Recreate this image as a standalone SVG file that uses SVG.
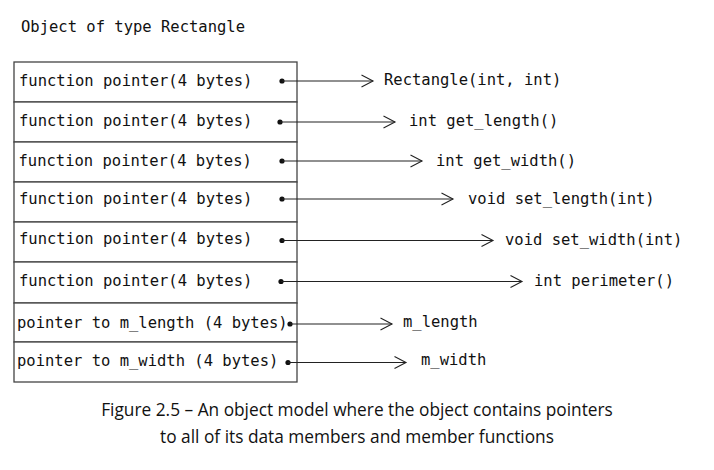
<svg xmlns="http://www.w3.org/2000/svg" width="714" height="470" viewBox="0 0 714 470">
<style>
.mono{font-family:"DejaVu Sans Mono","Liberation Mono",monospace;font-size:15.5px;fill:#111}
.cap{font-family:"Open Sans","Noto Sans",sans-serif;font-size:17.3px;fill:#111}
.row{fill:#fff;stroke:#444;stroke-width:1.3}
.conn{stroke:#222;stroke-width:1.1;fill:none}
.dot{fill:#111}
</style>
<defs>
<marker id="arr" markerUnits="userSpaceOnUse" markerWidth="14" markerHeight="14" refX="12" refY="7" orient="auto">
<path d="M0.5,1 L12,7 L0.5,13" fill="none" stroke="#222" stroke-width="1.1"/>
</marker>
</defs>
<rect width="714" height="470" fill="#fff"/>
<text id="title" class="mono" x="21" y="32">Object of type Rectangle</text>
<g id="object">
<g id="row1"><rect class="row" x="14" y="62" width="283" height="40"/><text class="mono" x="19" y="86">function pointer(4 bytes)</text></g>
<g id="row2"><rect class="row" x="14" y="102" width="283" height="40"/><text class="mono" x="19" y="126">function pointer(4 bytes)</text></g>
<g id="row3"><rect class="row" x="14" y="142" width="283" height="40"/><text class="mono" x="18.5" y="166">function pointer(4 bytes)</text></g>
<g id="row4"><rect class="row" x="14" y="182" width="283" height="40"/><text class="mono" x="19" y="204">function pointer(4 bytes)</text></g>
<g id="row5"><rect class="row" x="14" y="222" width="283" height="40"/><text class="mono" x="19" y="244">function pointer(4 bytes)</text></g>
<g id="row6"><rect class="row" x="14" y="262" width="283" height="41"/><text class="mono" x="19" y="286">function pointer(4 bytes)</text></g>
<g id="row7"><rect class="row" x="14" y="303" width="283" height="39"/><text class="mono" x="17" y="328">pointer to m_length (4 bytes)</text></g>
<g id="row8"><rect class="row" x="14" y="342" width="283" height="40"/><text class="mono" x="17" y="366">pointer to m_width (4 bytes)</text></g>
</g>
<g id="connectors">
<circle class="dot" cx="282" cy="81" r="2.6"/><line class="conn" x1="282" y1="81" x2="373" y2="81" marker-end="url(#arr)"/>
<circle class="dot" cx="280" cy="122" r="2.6"/><line class="conn" x1="280" y1="122" x2="395" y2="122" marker-end="url(#arr)"/>
<circle class="dot" cx="282" cy="161" r="2.6"/><line class="conn" x1="282" y1="161" x2="422" y2="161" marker-end="url(#arr)"/>
<circle class="dot" cx="282" cy="199" r="2.6"/><line class="conn" x1="282" y1="199" x2="453" y2="199" marker-end="url(#arr)"/>
<circle class="dot" cx="282" cy="240.5" r="2.6"/><line class="conn" x1="282" y1="240.5" x2="493" y2="240.5" marker-end="url(#arr)"/>
<circle class="dot" cx="281" cy="281.5" r="2.6"/><line class="conn" x1="281" y1="281.5" x2="522" y2="281.5" marker-end="url(#arr)"/>
<circle class="dot" cx="290" cy="324" r="2.6"/><line class="conn" x1="290" y1="324" x2="392" y2="324" marker-end="url(#arr)"/>
<circle class="dot" cx="288" cy="362.5" r="2.6"/><line class="conn" x1="288" y1="362.5" x2="406" y2="362.5" marker-end="url(#arr)"/>
</g>
<g id="targets">
<text id="t1" class="mono" x="384" y="85">Rectangle(int, int)</text>
<text id="t2" class="mono" x="409" y="126">int get_length()</text>
<text id="t3" class="mono" x="436" y="166">int get_width()</text>
<text id="t4" class="mono" x="468" y="204">void set_length(int)</text>
<text id="t5" class="mono" x="505" y="245">void set_width(int)</text>
<text id="t6" class="mono" x="534" y="286">int perimeter()</text>
<text id="t7" class="mono" x="403" y="327">m_length</text>
<text id="t8" class="mono" x="421" y="365">m_width</text>
</g>
<g id="caption">
<text class="cap" x="357" y="416" text-anchor="middle">Figure 2.5 – An object model where the object contains pointers</text>
<text class="cap" x="357" y="443" text-anchor="middle">to all of its data members and member functions</text>
</g>
</svg>
